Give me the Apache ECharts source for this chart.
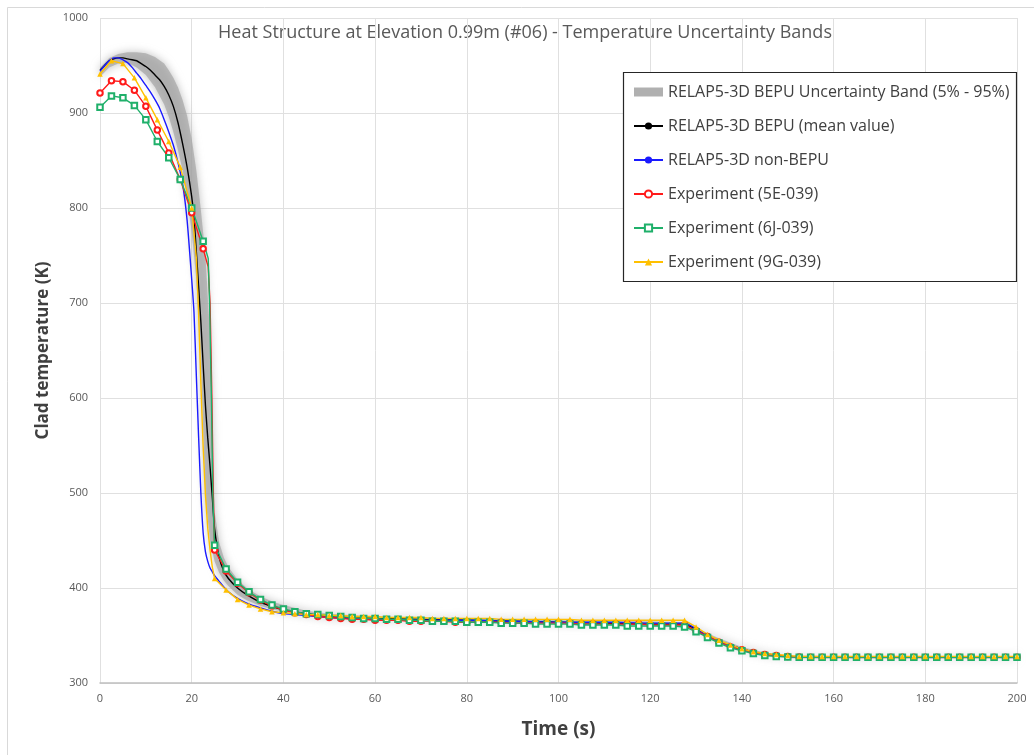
<!DOCTYPE html>
<html>
<head>
<meta charset="utf-8">
<script src="https://cdn.jsdelivr.net/npm/echarts@6/dist/echarts.min.js"></script>
<style>
  html, body { margin: 0; padding: 0; background: #ffffff; }
  #chart { width: 1034px; height: 755px; }
</style>
</head>
<body>
<div id="chart"></div>
<script>
// ---- Time axis ticks ----
const xTicks = [0, 20, 40, 60, 80, 100, 120, 140, 160, 180, 200];
const yTicks = [300, 400, 500, 600, 700, 800, 900, 1000];

// ---- RELAP5-3D simulations (s, K) ----
const simTime = [0,1,2,3,4,5,6,7,8,9,10,11,12,13,14,15,16,17,18,19,20,
  20.5,21,21.5,22,22.5,23,23.5,24,24.5,25,
  26,27,28,30,32,35,38,40,45,50,
  60,70,80,90,100,110,120,127,128,129,130,
  132,134,136,138,140,142,144,146,148,150,
  155,160,170,180,190,200];

const nonBepu = [944,950,955,958,958,956,953,948,942,936,929,922,914,905,893,880,866,848,826,787,725,
  690,625,560,500,458,438,428,421,417,413,
  407,401,396,389,384,379,375,373,371,369,
  367,366,366,365,364,364,363,363,362,360,357,
  351,346,342,339,336,333,331,330,329,328,
  327.5,327,327,327,327,327];

const bepuMean = [945,950,955,957,958,958,957,956,955,952,949,945,940,935,928,919,907,890,868,843,812,
  790,755,718,680,635,592,558,528,495,462,
  432,418,410,400,393,385,380,377,373,370,
  368,367,366,365,364,363,362,362,361,359,356,
  351,346,342,339,336,333,331,330,329,328,
  327.5,327,327,327,327,327];

// ---- BEPU 5% - 95% band ----
const bandTime = [0,2,4,6,8,10,12,14,15,16,17,18,19,20,21,22,23,24,25,26,27,28,30,32,35,38,40,45,50,60,80,100,120,128,130,135,140,145,150,160,200];
const bandLow  = [938,948,952,953,948,940,927,909,896,880,861,840,810,775,725,640,495,450,428,416,408,402,393,387,381,377,375,371,368,366,364,362,361,360,354,343,334,329,326,325.5,325.5];
const bandHigh = [948,958,962,964,964,963,959,952,945,937,927,914,897,873,840,798,750,665,480,448,432,422,409,400,391,385,382,376,373,370,368,366,365,364,358,347,338,332,329,328.5,328.5];

// ---- Experiments (marked samples every 2.5 s) ----
const expTime = [0,2.5,5,7.5,10,12.5,15,17.5,20,22.5,
  25,27.5,30,32.5,35,37.5,40,42.5,45,47.5,
  50,52.5,55,57.5,60,62.5,65,67.5,70,72.5,
  75,77.5,80,82.5,85,87.5,90,92.5,95,97.5,
  100,102.5,105,107.5,110,112.5,115,117.5,120,122.5,
  125,127.5,130,132.5,135,137.5,140,142.5,145,147.5,
  150,152.5,155,157.5,160,162.5,165,167.5,170,172.5,
  175,177.5,180,182.5,185,187.5,190,192.5,195,197.5,
  200];

const exp5E = [921,934,933,924,907,882,858,830,795,757,
  440,418,405,395,387,381,377,374,372,370,
  369,368,367,367,366,366,366,365,365,365,
  365,364,364,364,364,364,363,363,363,363,
  363,363,362,362,362,362,362,362,361,361,
  361,361,355,349,343,338,335,332,330,329,
  328,327.5,327,327,327,327,327,327,327,327,
  327,327,327,327,327,327,327,327,327,327,
  327];

const exp6J = [906,918,916,908,893,870,853,830,800,765,
  445,420,406,396,388,382,378,375,373,372,
  371,370,369,368,368,367,367,366,366,365,
  365,365,364,364,364,363,363,363,362,362,
  362,362,361,361,361,361,360,360,360,360,
  360,359,354,348,342,337,334,331,329,328,
  327.5,327,327,327,327,327,327,327,327,327,
  327,327,327,327,327,327,327,327,327,327,
  327];

const exp9G = [941,955,952,937,916,893,870,843,800,null,
  410,398,388,382,378,375,374,373,372,372,
  371,371,370,370,370,369,369,369,369,368,
  368,368,368,368,368,367,367,367,367,367,
  367,367,366,366,366,366,366,366,366,366,
  366,366,359,351,345,340,336,333,331,330,
  329,328,328,328,328,328,328,328,328,328,
  328,328,328,328,328,328,328,328,328,328,
  328];

// Quench-front samples between markers (drawn without symbols)
const quench5E = [[23.6,738],[24.0,700],[24.4,600],[24.7,500],[24.9,460]];
const quench6J = [[23.6,747],[23.9,700],[24.3,600],[24.6,500],[24.85,462]];
const quench9G = [[21,748],[21.5,690],[22,615],[22.5,548],[23,498],[23.5,463],[24,440],[24.5,422]];

const names = {
  band: 'RELAP5-3D BEPU Uncertainty Band (5% - 95%)',
  mean: 'RELAP5-3D BEPU (mean value)',
  nonBepu: 'RELAP5-3D non-BEPU',
  e5E: 'Experiment (5E-039)',
  e6J: 'Experiment (6J-039)',
  e9G: 'Experiment (9G-039)'
};

function pairs(ts, vs) {
  return ts.map((t, i) => [t, vs[i]]);
}

function expPoints(values, quench) {
  const pts = [];
  expTime.forEach((t, i) => {
    if (values[i] != null) pts.push({ value: [t, values[i]] });
  });
  quench.forEach(p => pts.push({ value: p, symbol: 'none' }));
  pts.sort((a, b) => a.value[0] - b.value[0]);
  return pts;
}

const chart = echarts.init(document.getElementById('chart'), null, { renderer: 'canvas' });
const FONT = '"Open Sans", "Noto Sans", sans-serif';

const option = {
  backgroundColor: '#ffffff',
  animation: false,
  textStyle: { fontFamily: FONT },
  graphic: [
    {
      type: 'rect', silent: true, z: -10,
      shape: { x: 7.5, y: 7.5, width: 1040, height: 760 },
      style: { fill: 'none', stroke: '#d9d9d9', lineWidth: 1 }
    },
    {
      type: 'text', silent: true,
      x: 525, y: 33,
      style: {
        text: 'Heat Structure at Elevation 0.99m (#06) - Temperature Uncertainty Bands',
        font: '18px ' + FONT, fill: '#595959',
        align: 'center', verticalAlign: 'middle'
      }
    },
    {
      type: 'rect', silent: true, z: 5,
      shape: { x: 623.5, y: 72.5, width: 393, height: 209 },
      style: { fill: '#ffffff', stroke: '#262626', lineWidth: 1.2 }
    }
  ],
  legend: {
    orient: 'vertical',
    left: 628, top: 79,
    itemWidth: 29, itemHeight: 9, itemGap: 18,
    z: 6,
    textStyle: { fontFamily: FONT, fontSize: 16, lineHeight: 16, color: '#404040' },
    data: [
      { name: names.band, icon: 'rect', itemStyle: { color: '#b0b0b0' } },
      names.mean, names.nonBepu, names.e5E, names.e6J, names.e9G
    ]
  },
  grid: { left: 100, right: 17, top: 18, bottom: 72 },
  xAxis: {
    type: 'value', min: 0, max: 200, interval: 20,
    name: 'Time (s)', nameLocation: 'middle', nameGap: 37,
    nameTextStyle: { fontFamily: FONT, fontSize: 19, fontWeight: 'bold', color: '#404040' },
    axisLine: { show: true, lineStyle: { color: '#bfbfbf', width: 1.5 } },
    axisTick: { show: false },
    axisLabel: { color: '#595959', fontSize: 11, margin: 10,
      formatter: v => (xTicks.indexOf(v) >= 0 ? String(v) : '') },
    splitLine: { show: true, lineStyle: { color: '#e0e0e0', width: 1 } }
  },
  yAxis: {
    type: 'value', min: 300, max: 1000, interval: 100,
    name: 'Clad temperature (K)', nameLocation: 'middle', nameGap: 48,
    nameTextStyle: { fontFamily: FONT, fontSize: 17, fontWeight: 'bold', color: '#404040' },
    axisLine: { show: false },
    axisTick: { show: false },
    axisLabel: { color: '#595959', fontSize: 11, margin: 12,
      formatter: v => (yTicks.indexOf(v) >= 0 ? String(v) : '') },
    splitLine: { show: true, lineStyle: { color: '#e0e0e0', width: 1 } }
  },
  series: [
    {
      name: names.band,
      type: 'custom',
      itemStyle: { color: '#b0b0b0' },
      data: [[bandTime[0], bandLow[0]]],
      z: 1,
      renderItem: function (params, api) {
        const pts = [];
        for (let i = 0; i < bandTime.length; i++) pts.push(api.coord([bandTime[i], bandHigh[i]]));
        for (let i = bandTime.length - 1; i >= 0; i--) pts.push(api.coord([bandTime[i], bandLow[i]]));
        return {
          type: 'polygon',
          shape: { points: pts, smooth: 0 },
          style: {
            fill: 'rgba(165,165,165,0.7)',
            shadowBlur: 9, shadowColor: 'rgba(150,150,150,0.85)'
          }
        };
      }
    },
    {
      name: names.mean, type: 'line', z: 2,
      data: pairs(simTime, bepuMean),
      showSymbol: false, symbol: 'none', smooth: 0.2,
      lineStyle: { color: '#000000', width: 1.4 },
      itemStyle: { color: '#000000' }
    },
    {
      name: names.nonBepu, type: 'line', z: 3,
      data: pairs(simTime, nonBepu),
      showSymbol: false, symbol: 'none', smooth: 0.2,
      lineStyle: { color: '#1a1aff', width: 1.4 },
      itemStyle: { color: '#1a1aff' }
    },
    {
      name: names.e5E, type: 'line', z: 4,
      data: expPoints(exp5E, quench5E),
      symbol: 'emptyCircle', symbolSize: 5.5,
      lineStyle: { color: '#ff1a1a', width: 1.4 },
      itemStyle: { color: '#ff1a1a', borderWidth: 1.1 }
    },
    {
      name: names.e6J, type: 'line', z: 4,
      data: expPoints(exp6J, quench6J),
      symbol: 'emptyRect', symbolSize: 5.5,
      lineStyle: { color: '#1fb06a', width: 1.4 },
      itemStyle: { color: '#1fb06a', borderWidth: 1.1 }
    },
    {
      name: names.e9G, type: 'line', z: 4,
      data: expPoints(exp9G, quench9G),
      symbol: 'triangle', symbolSize: 5.5,
      lineStyle: { color: '#ffc000', width: 1.4 },
      itemStyle: { color: '#ffc000' }
    }
  ]
};

chart.setOption(option);
</script>
</body>
</html>
